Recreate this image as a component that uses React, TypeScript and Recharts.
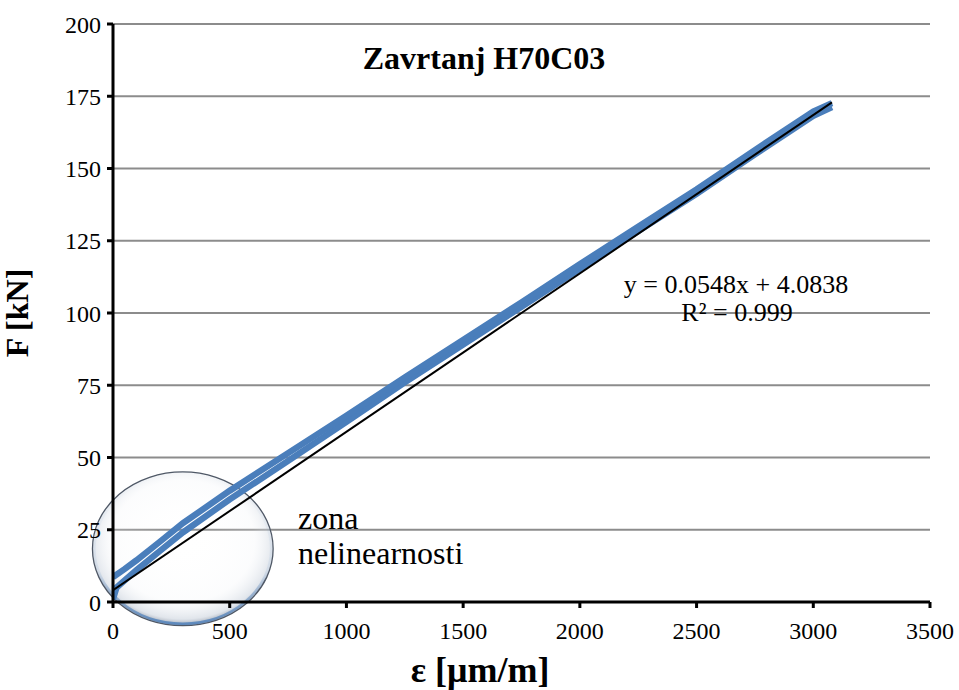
import { LineChart, Line, XAxis, YAxis, CartesianGrid, ReferenceArea } from "recharts";

const X_TICKS = [0, 500, 1000, 1500, 2000, 2500, 3000, 3500];
const Y_TICKS = [0, 25, 50, 75, 100, 125, 150, 175, 200];

// two branches of the measured loop (load / unload)
const UPPER_X = [0, 50, 100, 200, 300, 500, 750, 1000, 1250, 1500, 1750, 2000, 2250, 2500, 2750, 3000, 3080];
const UPPER_F = [8.6, 11.4, 14.4, 20.8, 27.3, 38.5, 51.5, 64.5, 77.7, 90.7, 103.7, 116.9, 129.9, 142.8, 156.4, 169.7, 172.6];
const LOWER_X = [0, 15, 50, 100, 200, 300, 500, 750, 1000, 1250, 1500, 1750, 2000, 2250, 2500, 2750, 3000, 3080];
const LOWER_F = [1, 5, 7.5, 11, 17.6, 24.1, 35.5, 48.8, 62.3, 76, 89.1, 102.1, 115.3, 128.3, 141.2, 154.9, 168.2, 171.2];

// linear trendline ends
const TREND_X = [0, 3080];
const TREND_F = [4.08, 172.9];

// "zona nelinearnosti" ellipse bounds
const ZONE_X = [-88, 686];
const ZONE_F = [-8.2, 45];

const upper = UPPER_X.map((x, i) => ({ x, f: UPPER_F[i] }));
const lower = LOWER_X.map((x, i) => ({ x, f: LOWER_F[i] }));
const trend = TREND_X.map((x, i) => ({ x, f: TREND_F[i] }));

const FONT = "'Liberation Serif', 'Times New Roman', serif";
const BLUE = "#4a7ebb";

function ZoneEllipse(props: any) {
  const { x, y, width, height } = props;
  const cx = x + width / 2;
  const cy = y + height / 2;
  return (
    <g>
      <defs>
        <radialGradient id="zoneFill" cx="50%" cy="45%" r="55%">
          <stop offset="0%" stopColor="#ffffff" stopOpacity={0} />
          <stop offset="72%" stopColor="#eef1f5" stopOpacity={0.2} />
          <stop offset="92%" stopColor="#c3ccd8" stopOpacity={0.5} />
          <stop offset="100%" stopColor="#7d8899" stopOpacity={0.85} />
        </radialGradient>
        <linearGradient id="zoneRim" x1="0" y1="0" x2="0" y2="1">
          <stop offset="0%" stopColor={BLUE} stopOpacity={0} />
          <stop offset="65%" stopColor={BLUE} stopOpacity={0.1} />
          <stop offset="100%" stopColor={BLUE} stopOpacity={0.8} />
        </linearGradient>
      </defs>
      <ellipse cx={cx} cy={cy} rx={width / 2} ry={height / 2} fill="url(#zoneFill)" stroke="#4f5866" strokeWidth={1.3} />
      <ellipse cx={cx} cy={cy} rx={width / 2 - 2} ry={height / 2 - 2} fill="none" stroke="url(#zoneRim)" strokeWidth={2.5} />
    </g>
  );
}

export default function App() {
  return (
    <div style={{ position: "absolute", left: 0, top: 0, width: 959, height: 690, background: "#fff", fontFamily: FONT }}>
      <LineChart width={959} height={690} margin={{ top: 24, right: 29, bottom: 28, left: 33 }} style={{ fontFamily: FONT }}>
        <CartesianGrid vertical={false} stroke="#8c8c8c" strokeWidth={2} />
        <XAxis
          type="number"
          dataKey="x"
          domain={[0, 3500]}
          ticks={X_TICKS}
          allowDataOverflow
          height={60}
          axisLine={{ stroke: "#000", strokeWidth: 3 }}
          tickLine={{ stroke: "#000", strokeWidth: 3 }}
          tickSize={6}
          tickMargin={14}
          tick={{ fill: "#000", fontSize: 24, fontFamily: FONT }}
        />
        <YAxis
          type="number"
          dataKey="f"
          domain={[0, 200]}
          ticks={Y_TICKS}
          allowDataOverflow
          width={80}
          axisLine={{ stroke: "#000", strokeWidth: 3 }}
          tickLine={{ stroke: "#000", strokeWidth: 3 }}
          tickSize={6}
          tickMargin={6}
          tick={{ fill: "#000", fontSize: 24, fontFamily: FONT }}
        />
        <Line data={lower} dataKey="f" stroke={BLUE} strokeWidth={6.3} dot={false} isAnimationActive={false} />
        <Line data={upper} dataKey="f" stroke={BLUE} strokeWidth={6.3} dot={false} isAnimationActive={false} />
        <Line data={trend} dataKey="f" stroke="#000" strokeWidth={2} dot={false} isAnimationActive={false} />
        <ReferenceArea
          x1={ZONE_X[0]}
          x2={ZONE_X[1]}
          y1={ZONE_F[0]}
          y2={ZONE_F[1]}
          ifOverflow="visible"
          shape={<ZoneEllipse />}
        />
      </LineChart>
      <svg width={959} height={690} style={{ position: "absolute", left: 0, top: 0, pointerEvents: "none" }}>
        <g fontFamily={FONT} fill="#000">
          <text x={484} y={69} fontSize={32} fontWeight="bold" textAnchor="middle">Zavrtanj H70C03</text>
          <text x={736} y={293} fontSize={26} textAnchor="middle">y = 0.0548x + 4.0838</text>
          <text x={737} y={321} fontSize={26} textAnchor="middle">R² = 0.999</text>
          <text x={298} y={529} fontSize={32}>zona</text>
          <text x={298} y={564} fontSize={32}>nelinearnosti</text>
          <text x={480} y={682} fontSize={36} fontWeight="bold" textAnchor="middle">ε [μm/m]</text>
          <text x={0} y={0} fontSize={32} fontWeight="bold" textAnchor="middle" transform="translate(28 313) rotate(-90)">F [kN]</text>
        </g>
      </svg>
    </div>
  );
}
